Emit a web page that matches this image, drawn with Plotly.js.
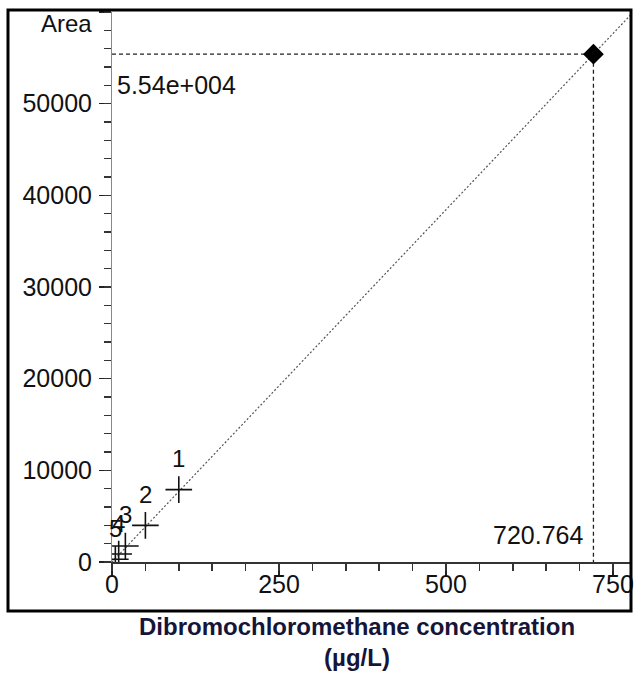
<!DOCTYPE html>
<html>
<head>
<meta charset="utf-8">
<script src="https://cdn.plot.ly/plotly-3.0.1.min.js"></script>
<style>html,body{margin:0;padding:0;background:#fff;}#chart{width:634px;height:673px;}</style>
</head>
<body>
<div id="chart"></div>
<script>
// Calibration levels (concentration µg/L, peak area)
const calLabels = ['1', '2', '3', '4', '5'];
const calConc = [100, 50, 20, 10, 5];
const calArea = [7900, 4000, 1750, 870, 300];
// Calibration line (through origin) endpoints
const fitConc = [0, 780];
const fitArea = [0, 59950];
// Unknown sample
const sampleConc = [720.764];
const sampleArea = [55400];
const sampleConcLabel = '720.764';
const sampleAreaLabel = '5.54e+004';
// Axis ticks
const xTicks = [0, 250, 500, 750];
const yTicks = [0, 10000, 20000, 30000, 40000, 50000, 60000];
const yTickText = ['0', '10000', '20000', '30000', '40000', '50000', ''];
const xRange = [0, 777];
const yRange = [0, 60000];

const FONT = 'Liberation Sans, Arial, sans-serif';
const tickFont = {family: FONT, size: 25, color: '#111'};

const traces = [
  {x: fitConc, y: fitArea, mode: 'lines', line: {color: '#555', width: 1.2, dash: '2px,2px'}, hoverinfo: 'skip'},
  {x: [0, sampleConc[0], sampleConc[0]], y: [sampleArea[0], sampleArea[0], 0], mode: 'lines',
   line: {color: '#222', width: 1.3, dash: '4px,3px'}, hoverinfo: 'skip'},
  {x: calConc, y: calArea, mode: 'markers',
   marker: {symbol: 'cross-thin-open', size: 19, line: {color: '#111', width: 1.6}, color: '#111'}},
  {x: sampleConc, y: sampleArea, mode: 'markers',
   marker: {symbol: 'diamond', size: 16, color: '#000'}},
  // invisible trace to activate the minor-tick overlay axes
  {x: xRange, y: yRange, xaxis: 'x2', yaxis: 'y2', mode: 'markers', marker: {opacity: 0, size: 1}, hoverinfo: 'skip'}
];

const annotations = calLabels.map((t, i) => ({
  x: calConc[i], y: calArea[i], xref: 'x', yref: 'y', text: t, showarrow: false,
  yshift: 31, font: {family: FONT, size: 24, color: '#111'}
}));
annotations.push({x: 0, y: sampleArea[0], xref: 'x', yref: 'y', text: sampleAreaLabel, showarrow: false,
  xanchor: 'left', yanchor: 'middle', xshift: 3, yshift: -31,
  font: {family: FONT, size: 25, color: '#111'}});
annotations.push({x: sampleConc[0], y: 0, xref: 'x', yref: 'y', text: sampleConcLabel, showarrow: false,
  xanchor: 'right', yanchor: 'middle', xshift: -8, yshift: 27,
  font: {family: FONT, size: 25, color: '#111'}});
annotations.push({x: 0, y: 1, xref: 'paper', yref: 'paper', text: 'Area', showarrow: false,
  xanchor: 'right', yanchor: 'middle', xshift: -18, yshift: -11,
  font: {family: FONT, size: 24, color: '#111'}});
annotations.push({x: 0.472, y: 0, xref: 'paper', yref: 'paper', text: 'Dibromochloromethane concentration<br>(µg/L)',
  showarrow: false, xanchor: 'center', yanchor: 'top', yshift: -49, align: 'center',
  font: {family: FONT, size: 24, color: '#15153a', weight: 'bold'}});

const layout = {
  width: 634, height: 673,
  margin: {l: 112, r: 3, t: 12, b: 111},
  paper_bgcolor: '#fff', plot_bgcolor: '#fff',
  showlegend: false,
  xaxis: {
    range: xRange, tickvals: xTicks, ticks: 'outside', ticklen: 13, tickwidth: 1.5, tickcolor: '#222',
    showgrid: false, zeroline: false, showline: true, linecolor: '#333', linewidth: 2,
    tickfont: tickFont, ticklabelstandoff: -14
  },
  yaxis: {
    range: yRange, tickvals: yTicks, ticktext: yTickText, ticks: 'outside', ticklen: 12, tickwidth: 1.3, tickcolor: '#222',
    showgrid: false, zeroline: false, showline: true, linecolor: '#888', linewidth: 1,
    tickfont: tickFont, ticklabelstandoff: 2
  },
  xaxis2: {
    overlaying: 'x', anchor: 'y2', side: 'bottom', range: xRange, tickmode: 'linear', tick0: 0, dtick: 50,
    ticks: 'outside', ticklen: 8, tickwidth: 1.5, tickcolor: '#333', showticklabels: false,
    showgrid: false, zeroline: false, showline: false
  },
  yaxis2: {
    overlaying: 'y', anchor: 'x2', side: 'left', range: yRange, tickmode: 'linear', tick0: 0, dtick: 2000,
    ticks: 'outside', ticklen: 7, tickwidth: 1.4, tickcolor: '#333', showticklabels: false,
    showgrid: false, zeroline: false, showline: false
  },
  annotations: annotations,
  shapes: [{type: 'rect', xref: 'paper', yref: 'paper', x0: -0.2004, x1: 1.0, y0: -0.089, y1: 1.0036,
    line: {color: '#000', width: 3}, fillcolor: 'rgba(0,0,0,0)'}]
};

Plotly.newPlot('chart', traces, layout, {displayModeBar: false, staticPlot: true});
</script>
</body>
</html>
